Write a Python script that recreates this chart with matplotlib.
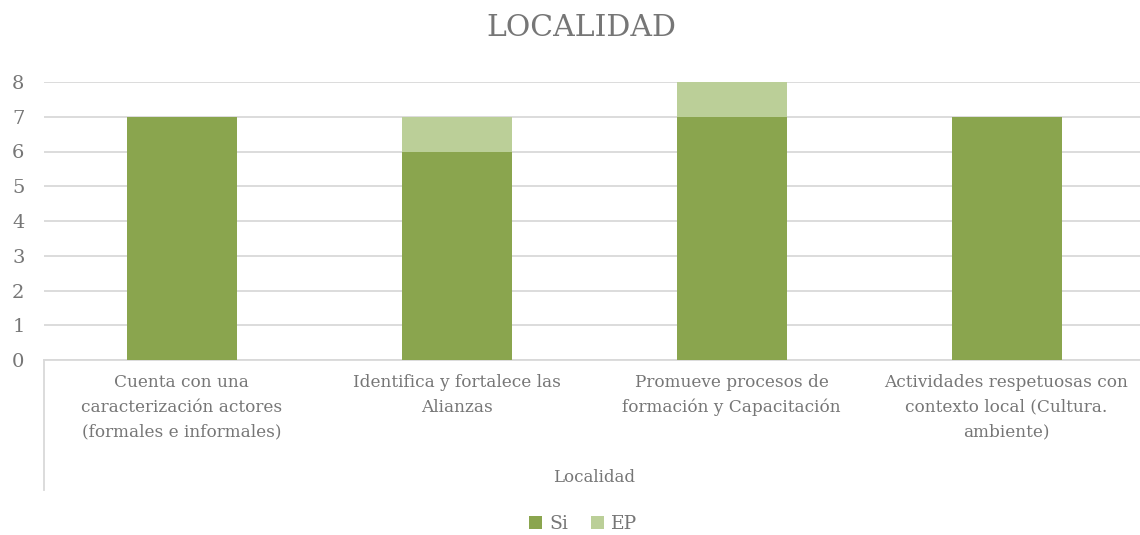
import matplotlib
matplotlib.use("Agg")
import matplotlib.pyplot as plt
from matplotlib.lines import Line2D

categorias = [
    "Cuenta con una\ncaracterización actores\n(formales e informales)",
    "Identifica y fortalece las\nAlianzas",
    "Promueve procesos de\nformación y Capacitación",
    "Actividades respetuosas con\ncontexto local (Cultura.\nambiente)",
]
si = [7, 6, 7, 7]
ep = [0, 1, 1, 0]

GRIS = "#767676"
VERDE = "#8AA54E"
VERDE_CLARO = "#BBCF98"

plt.rcParams["font.family"] = ["DejaVu Serif"]

fig = plt.figure(figsize=(11.4, 5.35), dpi=100)
W, H = 1140, 535
x0, x1, yb, yt = 44, 1144, 360, 82
ax = fig.add_axes([x0 / W, 1 - yb / H, (x1 - x0) / W, (yb - yt) / H])

x = range(len(categorias))
ax.bar(x, si, width=0.4, color=VERDE, label="Si", zorder=3)
ax.bar(x, ep, width=0.4, bottom=si, color=VERDE_CLARO, label="EP", zorder=3)

ax.set_xlim(-0.5, 3.5)
ax.set_ylim(0, 8)
ax.set_yticks(range(0, 9))
ax.yaxis.grid(True, color="#D9D9D9", lw=1.3, zorder=0)
ax.tick_params(axis="y", length=0, labelsize=14, labelcolor=GRIS, pad=14)
ax.tick_params(axis="x", length=0)
ax.set_xticks([])
for s in ["top", "right", "left"]:
    ax.spines[s].set_visible(False)
ax.spines["bottom"].set_color("#D9D9D9")
ax.spines["bottom"].set_linewidth(1.3)

for i, c in enumerate(categorias):
    ax.text(i, -0.4, c, ha="center", va="top", fontsize=12.2, color=GRIS,
            linespacing=1.6)

fig.text((x0 + x1) / 2 / W, 1 - 477 / H, "Localidad", ha="center", va="center",
         fontsize=12, color=GRIS)

# linea vertical del eje de categorias
fig.add_artist(Line2D([x0 / W, x0 / W], [1 - yb / H, 1 - 490 / H],
                      color="#D9D9D9", lw=1.3))

fig.text(581 / W, 1 - 28 / H, "LOCALIDAD", ha="center", va="center",
         fontsize=21.5, color=GRIS)

fig.legend(loc="center", bbox_to_anchor=(583 / W, 1 - 524 / H), ncol=2,
           frameon=False, fontsize=13.5, labelcolor=GRIS, handlelength=0.7,
           handleheight=0.7, handletextpad=0.4, columnspacing=1.2)

fig.savefig("out.png", dpi=100)
